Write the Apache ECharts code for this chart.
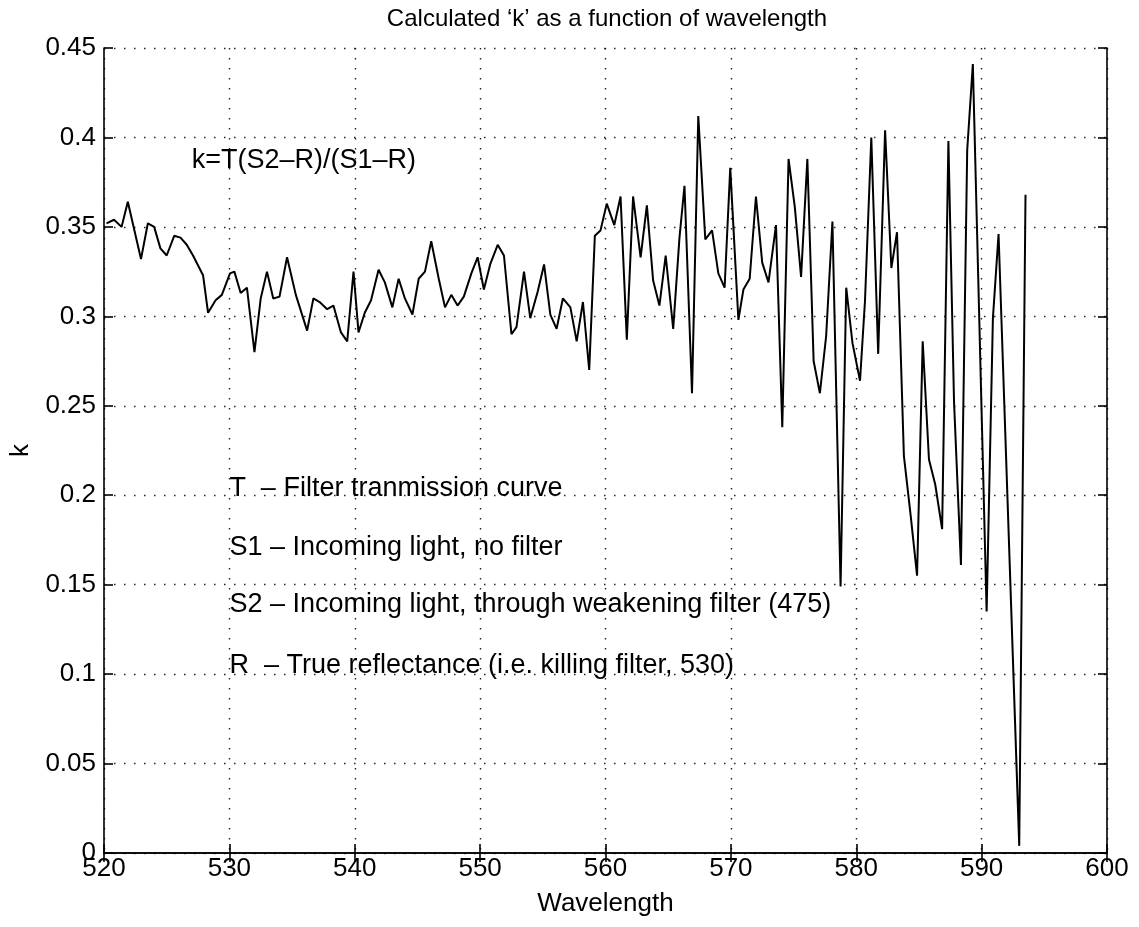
<!DOCTYPE html>
<html>
<head>
<meta charset="utf-8">
<script src="https://cdn.jsdelivr.net/npm/echarts@6/dist/echarts.min.js"></script>
<style>
html,body{margin:0;padding:0;background:#fff;}
#chart{width:1139px;height:927px;}
</style>
</head>
<body>
<div id="chart"></div>
<script>
// ---- data ----
const wavelength = [
520.2,520.8,521.4,521.9,522.95,523.5,524.0,524.5,525.0,525.6,526.1,526.6,527.1,527.9,528.3,528.9,529.4,530.05,530.4,530.9,
531.4,532.0,532.5,533.0,533.5,534.0,534.6,535.3,536.2,536.7,537.2,537.8,538.3,538.9,539.4,539.9,540.3,540.8,541.3,541.9,
542.4,543.0,543.5,544.0,544.6,545.1,545.6,546.1,546.7,547.2,547.7,548.2,548.7,549.3,549.8,550.3,550.8,551.4,551.9,552.5,
552.9,553.5,554.0,554.6,555.1,555.6,556.1,556.6,557.2,557.7,558.2,558.7,559.15,559.6,560.1,560.7,561.2,561.7,562.2,562.8,
563.3,563.8,564.3,564.8,565.4,565.9,566.3,566.9,567.4,567.96,568.5,569.0,569.5,569.95,570.6,571.0,571.5,572.0,572.5,573.0,
573.6,574.1,574.6,575.1,575.6,576.1,576.6,577.1,577.6,578.1,578.75,579.2,579.7,580.3,580.7,581.2,581.75,582.3,582.8,583.25,
583.8,584.35,584.85,585.3,585.8,586.3,586.85,587.35,587.8,588.35,588.85,589.3,590.4,590.9,591.35,593.0,593.5
];
const kValues = [
0.352,0.354,0.350,0.364,0.332,0.352,0.350,0.338,0.334,0.345,0.344,0.340,0.334,0.323,0.302,0.309,0.312,0.324,0.325,0.313,
0.316,0.280,0.310,0.325,0.310,0.311,0.333,0.312,0.292,0.310,0.308,0.304,0.306,0.291,0.286,0.325,0.291,0.302,0.309,0.326,
0.319,0.305,0.321,0.310,0.301,0.321,0.325,0.342,0.321,0.305,0.312,0.306,0.311,0.324,0.333,0.315,0.329,0.340,0.334,0.290,
0.294,0.325,0.299,0.314,0.329,0.301,0.293,0.310,0.305,0.286,0.308,0.270,0.345,0.348,0.363,0.351,0.367,0.287,0.367,0.333,
0.362,0.320,0.306,0.334,0.293,0.344,0.373,0.257,0.412,0.343,0.348,0.324,0.316,0.383,0.298,0.315,0.321,0.367,0.330,0.319,
0.351,0.238,0.388,0.361,0.322,0.388,0.275,0.257,0.289,0.353,0.149,0.316,0.285,0.264,0.309,0.400,0.279,0.404,0.327,0.347,
0.222,0.188,0.155,0.286,0.220,0.206,0.181,0.398,0.252,0.161,0.393,0.441,0.135,0.299,0.346,0.004,0.368
];
const xTicks = {min: 520, max: 600, interval: 10};
const yTicks = {min: 0, max: 0.45, interval: 0.05};
const titleText = 'Calculated \u2018k\u2019 as a function of wavelength';
const xName = 'Wavelength';
const yName = 'k';
const noteTexts = [
  'k=T(S2\u2013R)/(S1\u2013R)',
  'T  \u2013 Filter tranmission curve',
  'S1 \u2013 Incoming light, no filter',
  'S2 \u2013 Incoming light, through weakening filter (475)',
  'R  \u2013 True reflectance (i.e. killing filter, 530)'
];
const noteX = [527.0, 530, 530, 530, 530];
const noteY = [0.387, 0.204, 0.171, 0.139, 0.105];

// ---- chart ----
const FONT = '"Liberation Sans", Arial, Helvetica, sans-serif';
const lineData = wavelength.map((w, i) => [w, kValues[i]]);

const dotted = {color: '#222', width: 1.4, type: [1.5, 8.5]};
const frame = {color: '#000', width: 1.6};
const tick = {show: true, inside: true, length: 9, lineStyle: {color: '#000', width: 1.6}};
const chart = echarts.init(document.getElementById('chart'), null, {renderer: 'canvas'});
chart.setOption({
  animation: false,
  backgroundColor: '#fff',
  textStyle: {fontFamily: FONT},
  title: {
    text: titleText,
    left: 602, top: 2, textAlign: 'center',
    textStyle: {fontFamily: FONT, fontSize: 24, fontWeight: 'normal', color: '#000'}
  },
  grid: {left: 97, right: 32, top: 48, bottom: 74, containLabel: false},
  xAxis: [{
    type: 'value', min: xTicks.min, max: xTicks.max, interval: xTicks.interval,
    position: 'bottom',
    name: xName, nameLocation: 'middle', nameGap: 38,
    nameTextStyle: {fontFamily: FONT, fontSize: 26, color: '#000'},
    axisLine: {show: true, lineStyle: frame},
    axisTick: tick,
    axisLabel: {fontFamily: FONT, fontSize: 26, color: '#000', margin: 3},
    splitLine: {show: true, lineStyle: dotted}
  }, {
    type: 'value', min: xTicks.min, max: xTicks.max, interval: xTicks.interval,
    position: 'top',
    axisLine: {show: true, lineStyle: frame},
    axisTick: tick,
    axisLabel: {show: false},
    splitLine: {show: false}
  }],
  yAxis: [{
    type: 'value', min: yTicks.min, max: yTicks.max, interval: yTicks.interval,
    position: 'left',
    name: yName, nameLocation: 'middle', nameGap: 70, nameRotate: 90,
    nameTextStyle: {fontFamily: FONT, fontSize: 26, color: '#000'},
    axisLine: {show: true, lineStyle: frame},
    axisTick: tick,
    axisLabel: {fontFamily: FONT, fontSize: 26, color: '#000', margin: 8},
    splitLine: {show: true, lineStyle: dotted}
  }, {
    type: 'value', min: yTicks.min, max: yTicks.max, interval: yTicks.interval,
    position: 'right',
    axisLine: {show: true, lineStyle: frame},
    axisTick: tick,
    axisLabel: {show: false},
    splitLine: {show: false}
  }],
  series: [{
    type: 'line',
    xAxisIndex: 0, yAxisIndex: 0,
    data: lineData,
    showSymbol: false,
    symbol: 'none',
    lineStyle: {color: '#000', width: 2},
    silent: true
  }]
});

// annotations placed at data coordinates through the chart's own scales
const notes = noteTexts.map((t, i) => {
  const p = chart.convertToPixel({gridIndex: 0}, [noteX[i], noteY[i]]);
  return {
    type: 'text', x: p[0], y: p[1], silent: true, z: 10,
    style: {text: t, fill: '#000', font: '27px ' + FONT, textAlign: 'left', textVerticalAlign: 'middle'}
  };
});
chart.setOption({graphic: notes});
</script>
</body>
</html>
